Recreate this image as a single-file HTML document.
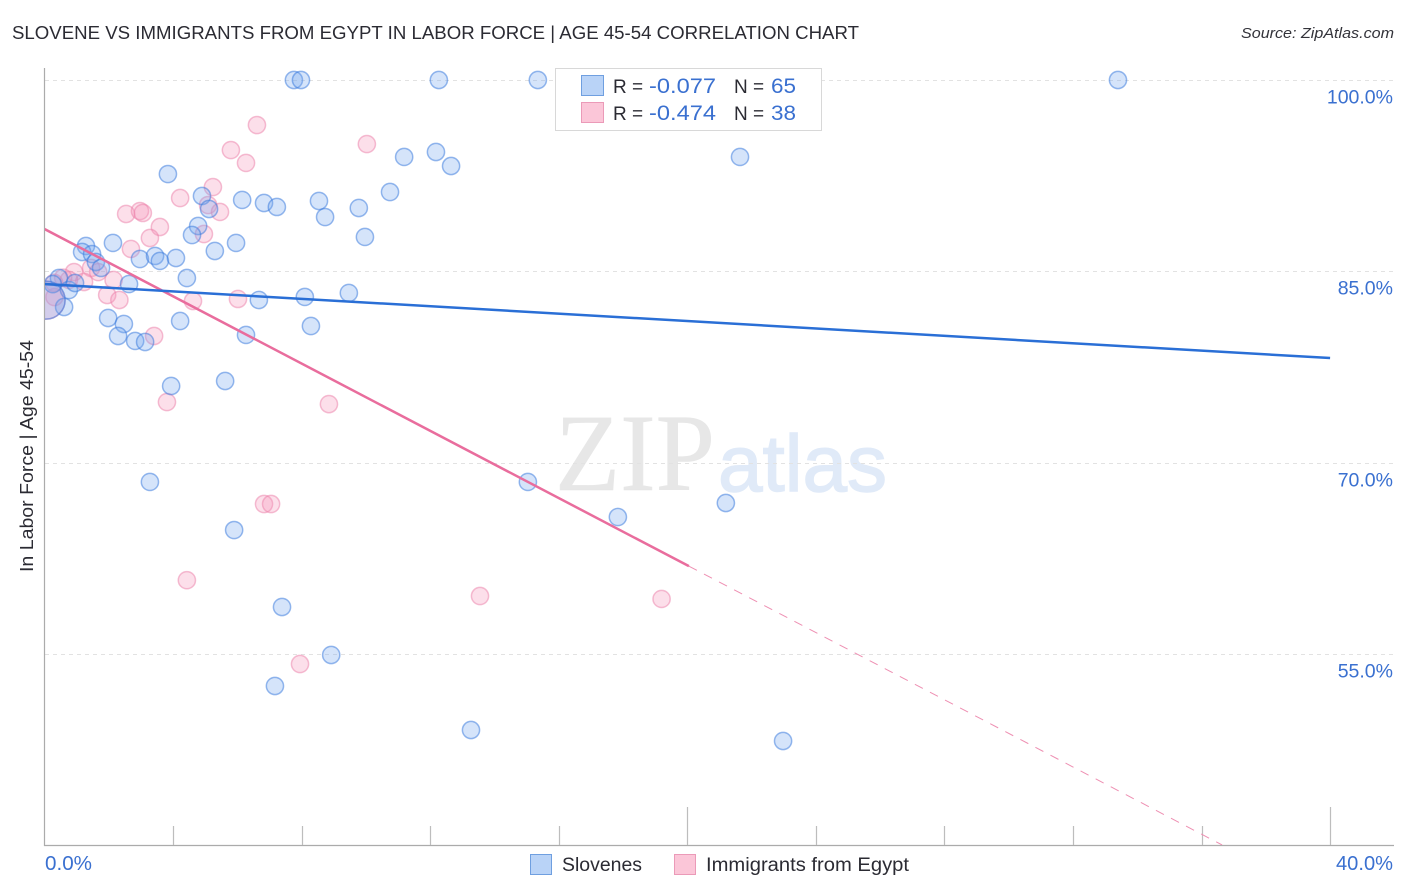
<!DOCTYPE html>
<html lang="en">
<head>
<meta charset="utf-8">
<title>Slovene vs Immigrants from Egypt in Labor Force | Age 45-54 Correlation Chart</title>
<style>
html,body{margin:0;padding:0;background:#fff;}
svg{display:block;font-family:"Liberation Sans",sans-serif;}
</style>
</head>
<body>
<svg id="chart" width="1406" height="892" viewBox="0 0 1406 892" xmlns="http://www.w3.org/2000/svg">
  <defs>
    <clipPath id="plot-clip"><rect x="45" y="60" width="1349" height="785"/></clipPath>
  </defs>
  <text x="12" y="39" font-size="18.5" fill="#2b2b33" textLength="847" lengthAdjust="spacingAndGlyphs">SLOVENE VS IMMIGRANTS FROM EGYPT IN LABOR FORCE | AGE 45-54 CORRELATION CHART</text>
  <text x="1394" y="38" font-size="15" font-style="italic" fill="#33333a" text-anchor="end" textLength="153" lengthAdjust="spacingAndGlyphs">Source: ZipAtlas.com</text>

  <g>
    <text x="555" y="490" font-family="'Liberation Serif',serif" font-size="110" fill="#e7e7e7" stroke="#e7e7e7" stroke-width="0.6" textLength="160" lengthAdjust="spacingAndGlyphs">ZIP</text>
    <text x="718" y="491" font-family="'Liberation Sans',sans-serif" font-size="80" fill="#e0eaf8" stroke="#e0eaf8" stroke-width="1.4" textLength="169" lengthAdjust="spacingAndGlyphs">atlas</text>
  </g>

  <g id="grid"></g>
  <g id="axes"></g>
  <g id="marks" clip-path="url(#plot-clip)"></g>

  <text transform="translate(33,456) rotate(-90)" font-size="18" fill="#2b2b33" text-anchor="middle" textLength="232" lengthAdjust="spacingAndGlyphs">In Labor Force | Age 45-54</text>

  <g>
    <rect x="555.5" y="68.5" width="266" height="62" fill="#fff" stroke="#d8d8d8" stroke-width="1"/>
    <rect x="581.5" y="75.5" width="22" height="20" fill="#b9d3f7" stroke="#6f9fe0" stroke-width="1"/>
    <rect x="581.5" y="102.5" width="22" height="20" fill="#fbc6d8" stroke="#eb9ab8" stroke-width="1"/>
    <text x="613" y="93" font-size="19" fill="#2b2b33">R =</text>
    <text x="649" y="93" font-size="21" fill="#3a70d0" textLength="67" lengthAdjust="spacingAndGlyphs">-0.077</text>
    <text x="734" y="93" font-size="19" fill="#2b2b33">N =</text>
    <text x="771" y="93" font-size="21" fill="#3a70d0" textLength="25" lengthAdjust="spacingAndGlyphs">65</text>
    <text x="613" y="120" font-size="19" fill="#2b2b33">R =</text>
    <text x="649" y="120" font-size="21" fill="#3a70d0" textLength="67" lengthAdjust="spacingAndGlyphs">-0.474</text>
    <text x="734" y="120" font-size="19" fill="#2b2b33">N =</text>
    <text x="771" y="120" font-size="21" fill="#3a70d0" textLength="25" lengthAdjust="spacingAndGlyphs">38</text>
  </g>

  <g>
    <rect x="530.5" y="854.5" width="21" height="20" fill="#b9d3f7" stroke="#6f9fe0" stroke-width="1"/>
    <text x="562" y="871" font-size="19" fill="#2b2b33" textLength="80" lengthAdjust="spacingAndGlyphs">Slovenes</text>
    <rect x="674.5" y="854.5" width="21" height="20" fill="#fbc6d8" stroke="#eb9ab8" stroke-width="1"/>
    <text x="706" y="871" font-size="19" fill="#2b2b33" textLength="203" lengthAdjust="spacingAndGlyphs">Immigrants from Egypt</text>
  </g>
</svg>
<script>
const yTickValues = [100, 85, 70, 55];
const yTickLabels = ['100.0%', '85.0%', '70.0%', '55.0%'];
const xTickValues = [4, 8, 12, 16, 20, 24, 28, 32, 36, 40];
const xMajorTicks = [20, 40];
const xEndLabels = ['0.0%', '40.0%'];

const sloveneX = [7.76,7.98,12.27,15.35,33.40,21.64,12.18,12.65,11.19,10.75,3.84,4.90,5.12,6.15,6.83,7.23,8.54,8.73,9.78,9.97,4.78,4.59,5.96,5.30,2.13,1.29,1.17,1.48,1.60,1.76,2.97,3.44,3.59,4.09,4.43,2.63,0.45,0.26,0.76,0.95,0.61,0.05,6.67,8.10,9.47,8.29,6.27,4.22,1.98,2.47,2.29,2.82,3.13,3.94,5.62,3.28,15.04,17.84,21.20,5.90,7.39,8.92,7.17,13.27,22.98];
const sloveneY = [100,100,100,100,100,93.97,94.36,93.26,93.97,91.22,92.63,90.91,89.89,90.60,90.36,90.05,90.52,89.26,89.97,87.70,88.56,87.85,87.23,86.60,87.23,86.99,86.52,86.36,85.74,85.27,85.97,86.21,85.82,86.05,84.48,84.01,84.48,84.00,83.54,84.09,82.21,82.75,82.76,83.00,83.31,80.72,80.02,81.11,81.35,80.88,79.94,79.55,79.47,76.02,76.41,68.50,68.50,65.75,66.85,64.73,58.70,54.94,52.51,49.06,48.20];
const egyptX = [6.61,5.80,6.27,10.03,5.24,4.22,2.54,2.97,3.06,5.09,5.46,3.59,3.28,4.96,2.69,0.92,1.45,1.67,2.15,1.23,0.76,0.58,0.31,1.95,2.33,4.62,6.02,3.41,3.81,8.85,6.83,7.05,4.43,13.55,19.20,7.95,0.30,0.05];
const egyptY = [96.47,94.51,93.50,94.98,91.61,90.75,89.50,89.73,89.58,90.20,89.66,88.48,87.62,87.93,86.76,84.95,85.27,84.95,84.33,84.17,84.33,84.50,82.99,83.15,82.76,82.68,82.84,79.94,74.76,74.60,66.77,66.77,60.80,59.56,59.33,54.23,84.10,82.75];
const largeSloveneIndex = 41;
const largeEgyptIndex = 37;

const sloveneTrendX = [0, 40];
const sloveneTrendY = [84.01, 78.21];
const egyptTrendSolidX = [0, 20.05];
const egyptTrendSolidY = [88.32, 61.90];
const egyptTrendDashX = [20.05, 36.64];
const egyptTrendDashY = [61.90, 40.05];

const NS = 'http://www.w3.org/2000/svg';
const xScale = v => 44.5 + v * 32.14;
const yScale = v => 80 + (100 - v) * 12.76;

function make(parent, tag, attrs, text) {
  const el = document.createElementNS(NS, tag);
  for (const k in attrs) el.setAttribute(k, attrs[k]);
  if (text !== undefined) el.textContent = text;
  parent.appendChild(el);
  return el;
}

const grid = document.getElementById('grid');
const axes = document.getElementById('axes');
const marks = document.getElementById('marks');

yTickValues.forEach((v, i) => {
  const y = Math.round(yScale(v)) + 0.5;
  const line = make(grid, 'line', {x1: 45, x2: 1394, y1: y, y2: y, stroke: '#e2e2e2', 'stroke-width': 1, 'stroke-dasharray': '4 4'});
  
  
  const label = make(axes, 'text', {x: 1393, y: y + 23, 'font-size': 19.5, fill: '#3a70d0', 'text-anchor': 'end'}, yTickLabels[i]);
  
  
});

const yAxis = make(axes, 'line', {x1: 44.5, x2: 44.5, y1: 68, y2: 846, stroke: '#ababab', 'stroke-width': 1.2});


const xAxis = make(axes, 'line', {x1: 44, x2: 1394, y1: 845.5, y2: 845.5, stroke: '#ababab', 'stroke-width': 1.2});



xTickValues.forEach(v => {
  const x = Math.round(xScale(v)) + 0.5;
  const top = xMajorTicks.includes(v) ? 807 : 826;
  const tick = make(axes, 'line', {x1: x, x2: x, y1: top, y2: 845, stroke: '#bdbdbd', 'stroke-width': 1.2});
  
  
});

const xLabelStart = make(axes, 'text', {x: 45, y: 870, 'font-size': 20, fill: '#3a70d0', textLength: 47, lengthAdjust: 'spacingAndGlyphs'}, xEndLabels[0]);


const xLabelEnd = make(axes, 'text', {x: 1336, y: 870, 'font-size': 20, fill: '#3a70d0', textLength: 57, lengthAdjust: 'spacingAndGlyphs'}, xEndLabels[1]);



function drawPoints(xs, ys, largeIndex, fill, stroke, name) {
  xs.forEach((v, i) => {
    const c = make(marks, 'circle', {
      cx: xScale(v), cy: yScale(ys[i]), r: i === largeIndex ? 19 : 8.6,
      fill: fill, stroke: stroke, 'stroke-width': 1.5
    });
    
    
  });
}
drawPoints(egyptX, egyptY, largeEgyptIndex, 'rgba(246,150,185,0.30)', 'rgba(236,130,170,0.52)', 'egypt-point');
drawPoints(sloveneX, sloveneY, largeSloveneIndex, 'rgba(115,165,240,0.30)', 'rgba(55,120,220,0.52)', 'slovene-point');

const egyptDash = make(marks, 'line', {
  x1: xScale(egyptTrendDashX[0]), y1: yScale(egyptTrendDashY[0]),
  x2: xScale(egyptTrendDashX[1]), y2: yScale(egyptTrendDashY[1]),
  stroke: '#ee8fb2', 'stroke-width': 1, 'stroke-dasharray': '9 8'
});


const egyptLine = make(marks, 'line', {
  x1: xScale(egyptTrendSolidX[0]), y1: yScale(egyptTrendSolidY[0]),
  x2: xScale(egyptTrendSolidX[1]), y2: yScale(egyptTrendSolidY[1]),
  stroke: '#e96d9d', 'stroke-width': 2.5
});


const sloveneLine = make(marks, 'line', {
  x1: xScale(sloveneTrendX[0]), y1: yScale(sloveneTrendY[0]),
  x2: xScale(sloveneTrendX[1]), y2: yScale(sloveneTrendY[1]),
  stroke: '#2a6fd6', 'stroke-width': 2.5
});


</script>
</body>
</html>
